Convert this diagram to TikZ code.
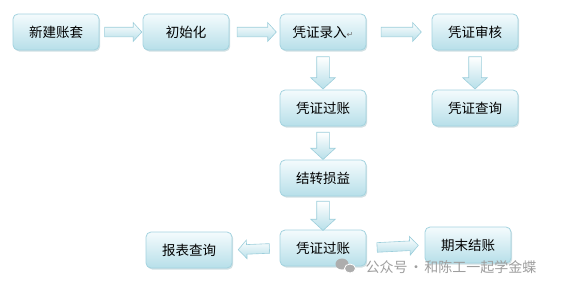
\documentclass[tikz,border=0pt]{standalone}
\usepackage{fontspec}
\setmainfont{Noto Sans CJK SC}
\newfontfamily\retfont{DejaVu Sans}
\usetikzlibrary{calc,shapes.arrows,shadows}
\definecolor{boxline}{HTML}{A3D3DF}
\definecolor{boxtop}{HTML}{F4FBFD}
\definecolor{boxbot}{HTML}{B7DFE9}
\definecolor{arrline}{HTML}{9CCEDB}
\definecolor{marktext}{HTML}{9E9E9E}
\tikzset{
  stepbox/.style={draw=boxline, line width=0.8pt, rounded corners=5pt,
    top color=boxtop, bottom color=boxbot, minimum width=86pt, minimum height=36pt,
    font=\fontsize{13.5}{16}\selectfont,
    drop shadow={shadow xshift=1.2pt, shadow yshift=-1.5pt, fill=boxline!70!gray, opacity=.45}},
  barrow/.style={single arrow, draw=arrline, line width=0.6pt, top color=white, bottom color=boxbot,
    single arrow tip angle=95},
  % block arrow between two nodes: #1 = gap, #2 = half shaft
  blk/.style 2 args={to path={let \p1=(\tikztostart), \p2=(\tikztotarget),
    \n1={atan2(\y2-\y1,\x2-\x1)}, \n2={veclen(\x2-\x1,\y2-\y1)-#1} in
    node[barrow, inner sep=#2, single arrow head extend=#2, minimum height=\n2, rotate=\n1]
    at ($(\tikztostart)!.5!(\tikztotarget)$) {}}},
  wmark/.style={text=marktext, font=\fontsize{14}{16}\selectfont, inner sep=0pt}
}
\begin{document}
\begin{tikzpicture}[x=1pt, y=-1pt]
  \useasboundingbox (0,0) rectangle (561,289);
  % 上排
  \node[stepbox] (xjzt) at (56,32) {新建账套};
  \node[stepbox] (csh) at (186,32) {初始化};
  \node[stepbox] (pzlr) at (323,32) {凭证录入{\retfont\fontsize{8}{8}\selectfont\color{black!55}↵}};
  \node[stepbox] (pzsh) at (475,32) {凭证审核};
  % 中间
  \node[stepbox] (pzgz) at (323,108) {凭证过账};
  \node[stepbox] (pzcx) at (475,108) {凭证查询};
  \node[stepbox] (jzsy) at (323,178) {结转损益};
  % 下排
  \node[stepbox] (pzgz2) at (323,248) {凭证过账};
  \node[stepbox] (bbcx) at (189,250) {报表查询};
  \node[stepbox] (qmjz) at (468,245) {期末结账};
  % 箭头
  \path (xjzt.east) to[blk={6pt}{4.5pt}] (csh.west);
  \path (csh.east) to[blk={11pt}{4.5pt}] (pzlr.west);
  \path (pzlr.east) to[blk={25pt}{4.5pt}] (pzsh.west);
  \path (pzsh.south) to[blk={7pt}{6pt}] (pzcx.north);
  \path (pzlr.south) to[blk={7pt}{6pt}] (pzgz.north);
  \path (pzgz.south) to[blk={6pt}{6pt}] (jzsy.north);
  \path (jzsy.south) to[blk={4pt}{6pt}] (pzgz2.north);
  \path (pzgz2.west) to[blk={16pt}{4.5pt}] (bbcx.east);
  \path (pzgz2.east) to[blk={17pt}{4.5pt}] (qmjz.west);
  % 水印
  \fill[marktext!85] (342,264) ellipse (6.5 and 5.5);
  \fill[marktext!85, draw=white, line width=0.8pt] (350,268.5) ellipse (5.5 and 4.5);
  \node[wmark] (wm) at (451,267) {公众号\hspace{0.1em}·\hspace{0.1em}和陈工一起学金蝶};
\end{tikzpicture}
\end{document}
